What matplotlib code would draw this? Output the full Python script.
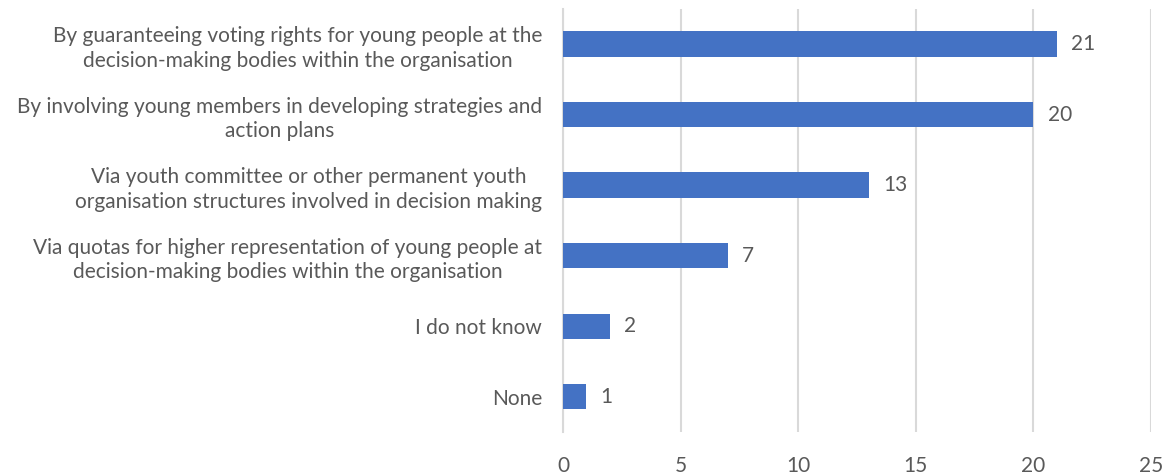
import matplotlib.pyplot as plt
import numpy as np

categories = [
    "By guaranteeing voting rights for young people at the\ndecision-making bodies within the organisation",
    "By involving young members in developing strategies and\naction plans",
    "Via youth committee or other permanent youth\norganisation structures involved in decision making",
    "Via quotas for higher representation of young people at\ndecision-making bodies within the organisation",
    "I do not know",
    "None",
]
values = [21, 20, 13, 7, 2, 1]
x_ticks = [0, 5, 10, 15, 20, 25]

plt.rcParams['font.family'] = ['Lato', 'DejaVu Sans']
txt = '#595959'
fs = 15

fig = plt.figure(figsize=(11.68, 4.76), dpi=100)
ax = fig.add_axes([0.482, 0.0924, 0.5035, 0.889])

y = np.arange(len(categories))
ax.barh(y, values, height=0.36, color='#4472C4', zorder=3)
for yi, v in zip(y, values):
    ax.text(v + 0.6, yi, str(v), va='center', ha='left', fontsize=fs, color=txt)

ax.set_yticks(y)
ax.set_yticklabels(categories, fontsize=fs, color=txt,
                   multialignment='center', linespacing=1.3)
ax.set_ylim(len(categories) - 0.5, -0.5)
ax.set_xlim(0, 25)
ax.set_xticks(x_ticks)
ax.set_xticklabels([str(t) for t in x_ticks], fontsize=fs, color=txt)
ax.tick_params(axis='both', length=0)
ax.tick_params(axis='x', pad=17)
ax.tick_params(axis='y', pad=15)
ax.grid(axis='x', color='#d9d9d9', linewidth=1.5, zorder=0)
for s in ['top', 'right', 'bottom']:
    ax.spines[s].set_visible(False)
ax.spines['left'].set_color('#d9d9d9')
ax.spines['left'].set_linewidth(1.5)

plt.savefig('out.png', dpi=100)
